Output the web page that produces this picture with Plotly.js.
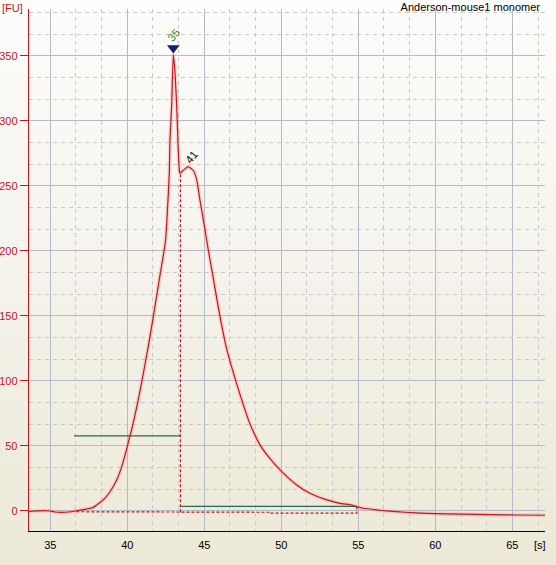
<!DOCTYPE html>
<html>
<head>
<meta charset="utf-8">
<script src="https://cdn.plot.ly/plotly-3.0.1.min.js"></script>
<style>
html,body{margin:0;padding:0;}
body{width:556px;height:565px;overflow:hidden;background:linear-gradient(to bottom,#fdfdfc 0%,#f5f3ec 45%,#ece9d8 100%);}
#chart{width:556px;height:565px;}
</style>
</head>
<body>
<div id="chart"></div>
<script>
// Electropherogram trace: time [s] and fluorescence [FU]
const timeS = [33.62, 34.14, 34.6, 35.0, 35.3, 36.2, 36.71, 37.03, 37.79, 38.44, 38.88, 39.31, 39.64, 39.96, 40.13, 40.32, 40.61, 40.94, 41.36, 41.69, 42.12, 42.34, 42.49, 42.62, 42.73, 42.77, 42.88, 42.99, 43.1, 43.21, 43.31, 43.38, 43.42, 43.64, 43.96, 44.29, 44.51, 44.72, 44.94, 45.26, 45.58, 45.87, 46.13, 46.45, 46.78, 47.06, 47.43, 47.97, 48.62, 49.16, 50.03, 51.0, 51.86, 52.95, 53.81, 54.57, 54.9, 55.32, 56.19, 56.84, 58.03, 59.44, 61.82, 63.55, 65.29, 67.12];
const fluor = [-0.4, 0.0, 0.3, 0.0, -0.8, -0.8, 0.2, 0.8, 2.8, 8.5, 14.8, 23.8, 34.1, 47.5, 55.9, 64.3, 79.7, 99.2, 126.4, 149.5, 181.0, 196.5, 208.5, 234.0, 260.0, 285.0, 311.0, 351.0, 337.0, 311.0, 278.0, 262.0, 259.8, 262.0, 264.8, 261.8, 254.6, 239.0, 223.8, 200.8, 179.2, 159.2, 142.8, 124.8, 110.6, 99.5, 85.4, 66.8, 50.8, 41.8, 30.2, 20.0, 13.6, 8.5, 5.9, 4.6, 3.3, 2.1, 0.8, 0.0, -1.0, -1.8, -2.5, -2.8, -3.1, -3.3];

// Integration baseline (dashed red)
const baseTime = [36.7, 43.45, 43.45, 49.2, 49.2, 54.9, 54.9];
const baseFU   = [-0.6, -0.9, -1.0, -1.0, -1.7, -1.7, 3.0];
// Peak split line (dashed red)
const splitTime = [43.45, 43.45];
const splitFU   = [-0.9, 259.8];

// Region markers (green)
const region1Time = [36.54, 43.44];
const region1FU   = [57.7, 57.7];
const region2Time = [43.5, 54.93];
const region2FU   = [3.6, 3.6];

// Peak labels
const peakTime  = [42.99, 43.96];
const peakFU    = [351.0, 264.8];
const peakLabel = ['35', '41'];

// Axis ticks
const xTicks = [35, 40, 45, 50, 55, 60, 65];
const yTicks = [0, 50, 100, 150, 200, 250, 300, 350];

const RED = '#c0161c';
const GREEN = '#2a6b4f';
const MAJ = '#b3bac8';
const MIN = '#c9c9c9';
const FONT = 'Liberation Sans, Arial, sans-serif';

const traces = [
  {x: timeS, y: fluor, mode: 'lines', line: {color: 'rgba(255,140,140,0.3)', width: 4, shape: 'spline', smoothing: 0.5}, hoverinfo: 'skip', showlegend: false},
  {x: baseTime, y: baseFU, mode: 'lines', line: {color: RED, width: 1.2, dash: '3px,2px'}, showlegend: false},
  {x: splitTime, y: splitFU, mode: 'lines', line: {color: RED, width: 1.2, dash: '3px,2px'}, showlegend: false},
  {x: region1Time, y: region1FU, mode: 'lines', line: {color: GREEN, width: 1.3}, showlegend: false},
  {x: region2Time, y: region2FU, mode: 'lines', line: {color: GREEN, width: 1.3}, showlegend: false},
  {x: timeS, y: fluor, mode: 'lines', line: {color: RED, width: 1.2, shape: 'spline', smoothing: 0.5}, showlegend: false},
  {x: [peakTime[0]], y: [peakFU[0] + 5], mode: 'markers', marker: {symbol: 'triangle-down', size: 11, color: '#1b1b6b'}, showlegend: false}
];

const annotations = [
  {x: peakTime[0], y: peakFU[0], text: peakLabel[0], showarrow: false, textangle: -50, yshift: 20, xshift: 0,
   font: {family: FONT, size: 11, color: '#2e8b2e'}},
  {x: peakTime[1], y: peakFU[1], text: peakLabel[1], showarrow: false, textangle: -50, yshift: 10, xshift: 3,
   font: {family: FONT, size: 11, color: '#000000'}},
  {xref: 'paper', yref: 'paper', x: -29/516, y: (531-8)/522, xanchor: 'left', yanchor: 'middle', text: '[FU]', showarrow: false,
   font: {family: FONT, size: 11, color: RED}},
  {xref: 'paper', yref: 'paper', x: (548-29)/516, y: (531-545)/522, xanchor: 'right', yanchor: 'middle', text: '[s]', showarrow: false,
   font: {family: FONT, size: 11, color: '#000000'}}
];

const layout = {
  width: 556, height: 565,
  margin: {l: 29, r: 11, t: 9, b: 34, pad: 0},
  paper_bgcolor: 'rgba(0,0,0,0)',
  plot_bgcolor: 'rgba(0,0,0,0)',
  showlegend: false,
  title: {text: 'Anderson-mouse1 monomer', xref: 'paper', x: (540-29)/516, xanchor: 'right', yref: 'container', y: 1 - 7/565, yanchor: 'middle',
          font: {family: FONT, size: 11, color: '#000000'}},
  xaxis: {
    range: [33.62, 67.12], tickvals: xTicks, ticktext: xTicks.map(String),
    showgrid: true, gridcolor: MAJ, gridwidth: 1,
    zeroline: false, showline: true, linecolor: '#000000', linewidth: 1,
    ticks: '', ticklabelstandoff: 4, tickfont: {family: FONT, size: 11, color: '#000000'},
    minor: {tick0: 35, dtick: 5/3, showgrid: true, gridcolor: MIN, griddash: '4px,4px', gridwidth: 1, ticks: ''},
    fixedrange: true
  },
  yaxis: {
    range: [-15.4, 386], tickvals: yTicks, ticktext: yTicks.map(String),
    showgrid: true, gridcolor: MAJ, gridwidth: 1,
    zeroline: true, zerolinecolor: MAJ, zerolinewidth: 1,
    showline: true, linecolor: RED, linewidth: 1.3,
    ticks: 'outside', ticklen: 8, tickcolor: RED, tickwidth: 1,
    tickfont: {family: FONT, size: 11, color: RED},
    minor: {tick0: 0, dtick: 50/3, showgrid: true, gridcolor: MIN, griddash: '4px,4px', gridwidth: 1, ticks: ''},
    fixedrange: true
  },
  annotations: annotations
};

Plotly.newPlot('chart', traces, layout, {displayModeBar: false, staticPlot: true});
</script>
</body>
</html>
